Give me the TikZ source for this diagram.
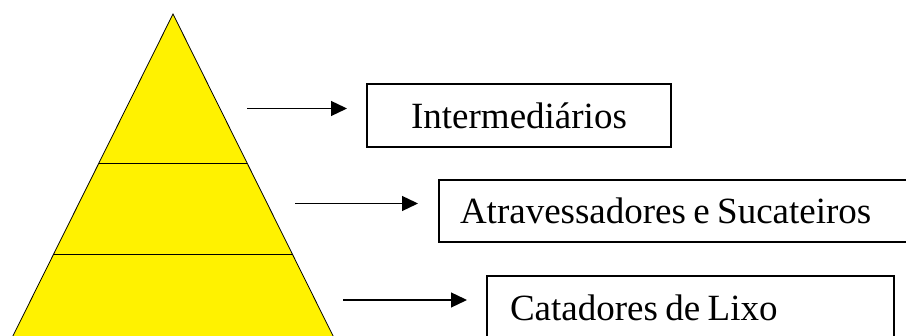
\documentclass[tikz,border=0pt]{standalone}
\usepackage{fontspec}
\setmainfont{Liberation Serif}
\usetikzlibrary{arrows.meta}
\tikzset{
  level/.style={fill=yellow, draw=black, line width=0.8pt, line join=miter},
  band/.style={draw=black, line width=0.9pt},
  labelbox/.style={draw=black, line width=1.4pt, rectangle, inner ysep=0pt,
    font=\fontsize{37}{44}\selectfont},
  flow/.style={draw=black, line width=1.3pt, -{Triangle[length=16pt,width=15pt]}}
}
\begin{document}
\begin{tikzpicture}[x=1pt,y=-1pt]
\useasboundingbox (0,0) rectangle (906,336);
\clip (0,0) rectangle (906,336);
% pyramid
\coordinate (apex) at (173,14);
\coordinate (bl) at (-1,364);
\coordinate (br) at (347,364);
\filldraw[level] (apex) -- (br) -- (bl) -- cycle;
\coordinate (b1l) at (99,163);
\coordinate (b1r) at (247,163);
\coordinate (b2l) at (53.5,254);
\coordinate (b2r) at (292.5,254);
\draw[band] (b1l) -- (b1r);
\draw[band] (b2l) -- (b2r);
% boxes
\node[labelbox, minimum width=304pt, minimum height=63pt, align=center] (box1) at (519,115.5) {Intermediários};
\node[labelbox, minimum width=491pt, minimum height=62pt, inner xsep=21pt, text width=449pt, align=left] (box2) at (684.5,211) {\spaceskip=0.2em Atravessadores e Sucateiros};
\node[labelbox, minimum width=407pt, minimum height=63pt, inner xsep=23pt, text width=361pt, align=left] (box3) at (690.5,307.5) {\spaceskip=0.2em Catadores de Lixo};
% arrows
\coordinate (a1s) at (247,108.5);
\coordinate (a1e) at (347,108.5);
\coordinate (a2s) at (295,203.5);
\coordinate (a2e) at (418,203.5);
\coordinate (a3s) at (343,300);
\coordinate (a3e) at (467,300);
\draw[flow] (a1s) -- (a1e);
\draw[flow] (a2s) -- (a2e);
\draw[flow] (a3s) -- (a3e);
\end{tikzpicture}
\end{document}
